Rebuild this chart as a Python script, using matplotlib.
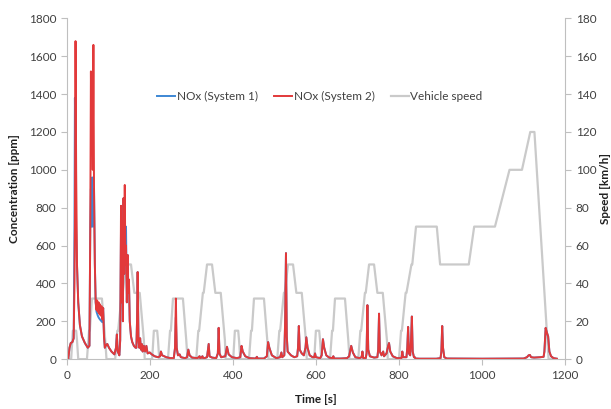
import matplotlib
matplotlib.use("Agg")
import matplotlib.pyplot as plt

plt.rcParams['font.family'] = ['Lato', 'DejaVu Sans']

# NOx (System 2), time [s] and concentration [ppm]
nox_t = [0, 4, 7, 10, 14, 17, 19, 20, 21.5, 23, 25, 28, 32, 37, 44, 51, 55,
         57, 58.5, 60, 61.5, 63, 64.5, 66, 68, 70, 72, 73.5, 75, 77, 78.5, 80,
         82, 84, 86, 88, 90, 92, 95, 98, 102, 108, 115, 119, 121, 123, 127, 129,
         131, 132.5, 134, 135.5, 137, 138.5, 140, 141.5, 143, 145, 147, 148.5,
         150, 152, 155, 158, 162, 166, 168, 169.5, 171, 173, 175, 177, 179, 181,
         183, 186, 189, 192, 195, 200, 205, 212, 220, 225, 227, 230, 240, 250,
         258, 261, 263, 265, 268, 272, 275, 285, 290, 293, 296, 302, 315, 320,
         322, 327, 329, 338, 342, 344, 350, 360, 364, 366, 368, 372, 382, 386,
         390, 398, 410, 418, 421, 424, 430, 440, 455, 458, 460, 475, 482, 485,
         488, 494, 505, 514, 517, 519, 524, 526, 528, 530, 532, 540, 548, 555,
         557, 559, 561, 566, 571, 575, 577, 580, 585, 592, 596, 598, 600, 610,
         614, 617, 620, 625, 632, 640, 642, 644, 660, 675, 680, 685, 689, 695,
         705, 710, 712, 714, 720, 722, 724, 726, 730, 740, 748, 750, 752, 754,
         758, 762, 764, 770, 774, 776, 779, 785, 795, 806, 808, 810, 818, 820,
         822, 824, 827, 829, 831, 833, 836, 838, 840, 850, 890, 900, 902, 904,
         906, 909, 915, 1000, 1100, 1108, 1112, 1115, 1118, 1125, 1140, 1148,
         1150, 1153, 1156, 1159, 1162, 1166, 1172, 1180]
nox_sys2 = [0, 0, 60, 85, 90, 110, 400, 700, 1680, 1000, 500, 300, 180, 120, 85, 60, 70,
            700, 1520, 1100, 1400, 1000, 1660, 900, 500, 300, 260, 310, 250, 300, 240, 290,
            230, 280, 210, 270, 120, 60, 75, 80, 60, 40, 25, 60, 130, 40, 20, 100,
            810, 300, 730, 200, 850, 450, 920, 500, 600, 300, 550, 350,
            420, 200, 120, 90, 70, 60, 60, 200, 460, 100, 60, 110, 50, 80,
            40, 70, 40, 70, 30, 35, 25, 15, 10, 15, 40, 20, 10, 5,
            5, 60, 320, 60, 20, 25, 10, 5, 10, 50, 20, 8, 5, 15,
            3, 15, 3, 10, 80, 15, 8, 5, 30, 165, 30, 10, 15, 65,
            25, 10, 5, 10, 70, 40, 15, 5, 3, 12, 3, 3, 15, 90,
            60, 20, 5, 10, 35, 10, 20, 200, 560, 120, 40, 20, 10, 15,
            60, 175, 50, 30, 20, 60, 115, 60, 20, 10, 10, 30, 10, 5,
            20, 105, 60, 20, 8, 5, 15, 3, 3, 5, 15, 70, 35, 10,
            5, 10, 40, 5, 5, 30, 285, 50, 15, 8, 10, 50, 240, 40,
            20, 40, 15, 30, 70, 85, 40, 15, 5, 5, 40, 10, 10, 60,
            170, 30, 20, 100, 225, 40, 10, 10, 3, 2, 2, 5, 40, 175,
            60, 10, 3, 2, 3, 10, 20, 22, 10, 8, 10, 12,
            40, 165, 140, 120, 40, 15, 5, 2]

# NOx (System 1): where it differs from System 2 (time [s] -> ppm)
sys1_diff_t = [19, 20, 21.5, 23, 58.5, 60, 61.5, 63, 64.5, 72, 73.5, 75, 77, 78.5,
               80, 82, 84, 86, 131, 140, 143, 263]
sys1_diff_v = [700, 1380, 1000, 700, 900, 700, 960, 700, 800, 250, 240, 230, 220, 215,
               210, 205, 200, 195, 700, 650, 700, 220]
nox_sys1 = list(nox_sys2)
for t, v in zip(sys1_diff_t, sys1_diff_v):
    nox_sys1[nox_t.index(t)] = v

# Vehicle speed (NEDC), time [s] and speed [km/h]
speed_t = [0, 11, 15, 23, 25, 28, 49, 54, 56, 61, 85, 93, 96, 117, 122, 124, 133, 135,
           143, 155, 163, 176, 186, 188,
           206, 210, 218, 220, 223, 244, 249, 251, 256, 280, 288, 291, 312, 317, 319,
           328, 330, 338, 350, 358, 371, 381, 383,
           401, 405, 413, 415, 418, 439, 444, 446, 451, 475, 483, 486, 507, 512, 514,
           523, 525, 533, 545, 553, 566, 576, 578,
           596, 600, 608, 610, 613, 634, 639, 641, 646, 670, 678, 681, 702, 707, 709,
           718, 720, 728, 740, 748, 761, 771, 773,
           800, 805, 807, 816, 818, 830, 832, 841, 891, 899, 968, 981, 1031, 1066,
           1096, 1116, 1126, 1160, 1180]
speed_v = [0, 0, 15, 15, 10, 0, 0, 15, 15, 32, 32, 10, 0, 0, 15, 15, 35, 35,
           50, 50, 35, 35, 10, 0,
           0, 15, 15, 10, 0, 0, 15, 15, 32, 32, 10, 0, 0, 15, 15,
           35, 35, 50, 50, 35, 35, 10, 0,
           0, 15, 15, 10, 0, 0, 15, 15, 32, 32, 10, 0, 0, 15, 15,
           35, 35, 50, 50, 35, 35, 10, 0,
           0, 15, 15, 10, 0, 0, 15, 15, 32, 32, 10, 0, 0, 15, 15,
           35, 35, 50, 50, 35, 35, 10, 0,
           0, 15, 15, 35, 35, 50, 50, 70, 70, 50, 50, 70, 70, 100,
           100, 120, 120, 0, 0]

x_ticks = [0, 200, 400, 600, 800, 1000, 1200]
conc_ticks = [0, 200, 400, 600, 800, 1000, 1200, 1400, 1600, 1800]
speed_ticks = [0, 20, 40, 60, 80, 100, 120, 140, 160, 180]

txt = '#404040'
grid_c = '#bfbfbf'

fig = plt.figure(figsize=(6.11, 4.09), dpi=100)
ax = fig.add_axes([0.109, 0.122, 0.816, 0.833])
ax2 = ax.twinx()
ax.set_zorder(ax2.get_zorder() + 1)
ax.patch.set_visible(False)

l1, = ax.plot(nox_t, nox_sys1, color='#3d87d4', lw=1.4, label='NOx (System 1)')
l2, = ax.plot(nox_t, nox_sys2, color='#e2393a', lw=1.4, label='NOx (System 2)')
l3, = ax2.plot(speed_t, speed_v, color='#cacaca', lw=1.6, label='Vehicle speed')

ax.set_xlim(0, 1200)
ax.set_ylim(0, 1800)
ax2.set_ylim(0, 180)
ax.set_xticks(x_ticks)
ax.set_yticks(conc_ticks)
ax2.set_yticks(speed_ticks)

for a in (ax, ax2):
    for s in a.spines.values():
        s.set_color(grid_c)
    a.spines['top'].set_visible(False)
    a.tick_params(colors=grid_c, labelcolor=txt, labelsize=8.5, length=4, width=0.8)
ax.spines['right'].set_visible(False)
ax2.spines['left'].set_visible(False)
ax2.spines['bottom'].set_visible(False)

ax.set_xlabel('Time [s]', fontsize=8.5, fontweight='bold', color='#202020', labelpad=10)
ax.set_ylabel('Concentration [ppm]', fontsize=8.5, fontweight='bold', color='#202020', labelpad=6)
ax2.set_ylabel('Speed [km/h]', fontsize=8.5, fontweight='bold', color='#202020', labelpad=3)

ax.legend([l1, l2, l3], ['NOx (System 1)', 'NOx (System 2)', 'Vehicle speed'],
          loc='center', bbox_to_anchor=(0.508, 0.77), ncol=3, frameon=False,
          fontsize=8.5, handlelength=1.5, handletextpad=0.15, columnspacing=1.4,
          labelcolor=txt)

fig.savefig('out.png', dpi=100)
